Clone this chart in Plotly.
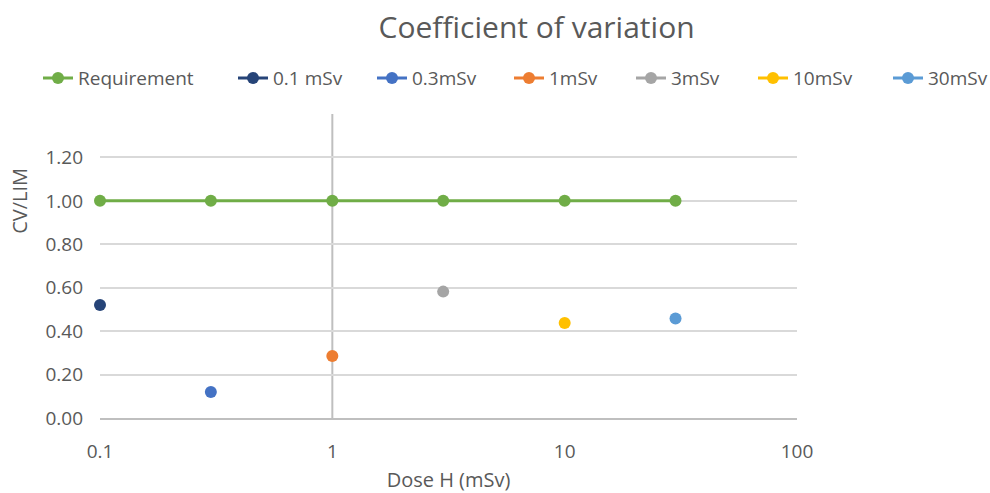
import plotly.graph_objects as go

# Data
req_dose = [0.1, 0.3, 1, 3, 10, 30]
req_cv = [1.0, 1.0, 1.0, 1.0, 1.0, 1.0]

series_names = ["0.1 mSv", "0.3mSv", "1mSv", "3mSv", "10mSv", "30mSv"]
series_dose = [0.1, 0.3, 1, 3, 10, 30]
series_cv = [0.52, 0.12, 0.285, 0.582, 0.438, 0.458]
series_colors = ["#264478", "#4472C4", "#ED7D31", "#A5A5A5", "#FFC000", "#5B9BD5"]

y_ticks = [0.0, 0.2, 0.4, 0.6, 0.8, 1.0, 1.2]
y_ticktext = ["0.00", "0.20", "0.40", "0.60", "0.80", "1.00", "1.20"]
x_ticks = [0.1, 1, 10, 100]
x_ticktext = ["0.1", "1", "10", "100"]
axis_cross = 1  # vertical axis crosses at dose = 1

# legend entry left positions (px from left of figure), one per entry
legend_px = [38, 233, 372, 509, 631, 753, 888]

FONT = "Open Sans"
GREY = "#595959"
W, H = 990, 493
ML, MR, MT, MB = 100, 193, 114, 75
PW = W - ML - MR

fig = go.Figure()
fig.add_trace(go.Scatter(
    x=req_dose, y=req_cv, name="Requirement", mode="lines+markers",
    line=dict(color="#70AD47", width=3),
    marker=dict(color="#70AD47", size=12), cliponaxis=False, legend="legend",
))
for i, (n, xd, yv, c) in enumerate(zip(series_names, series_dose, series_cv, series_colors)):
    fig.add_trace(go.Scatter(
        x=[xd], y=[yv], name=n, mode="lines+markers",
        line=dict(color=c, width=3),
        marker=dict(color=c, size=12), cliponaxis=False,
        legend=f"legend{i + 2}",
    ))

# vertical axis line crossing at x = 1
fig.add_shape(type="line", xref="x", yref="paper", x0=axis_cross, x1=axis_cross,
              y0=0, y1=1, line=dict(color="#BFBFBF", width=2), layer="below")

legend_defaults = dict(orientation="h", xanchor="left", y=1.118, yanchor="middle",
                       font=dict(family=FONT, size=19, color=GREY),
                       bgcolor="rgba(0,0,0,0)", borderwidth=0)
legends = {}
for i, px in enumerate(legend_px):
    key = "legend" if i == 0 else f"legend{i + 1}"
    legends[key] = dict(legend_defaults, x=(px - ML) / PW)

fig.update_layout(
    width=W, height=H,
    margin=dict(l=ML, r=MR, t=MT, b=MB, autoexpand=False),
    paper_bgcolor="white", plot_bgcolor="white",
    font=dict(family=FONT, color=GREY, size=19),
    title=dict(text="Coefficient of variation", x=0.542, xanchor="center",
               y=0.945, yanchor="middle",
               font=dict(family=FONT, size=30, color=GREY)),
    showlegend=True,
    xaxis=dict(type="log", range=[-1, 2], tickvals=x_ticks, ticktext=x_ticktext,
               showgrid=False, showline=True, linecolor="#BFBFBF", linewidth=2,
               ticks="", zeroline=False, automargin=False, ticklabelstandoff=15,
               tickfont=dict(size=19, color=GREY),
               title=dict(text="Dose H (mSv)", font=dict(size=20, color=GREY), standoff=14)),
    yaxis=dict(range=[0, 1.4], tickvals=y_ticks, ticktext=y_ticktext,
               showgrid=True, gridcolor="#D9D9D9", gridwidth=1.5, automargin=False,
               showline=False, zeroline=False, ticks="", ticklabelstandoff=16,
               tickfont=dict(size=19, color=GREY)),
    **legends,
)

fig.add_annotation(text="CV/LIM", xref="paper", yref="paper", x=-0.115, y=0.714,
                   showarrow=False, textangle=-90, xanchor="center", yanchor="middle",
                   font=dict(family=FONT, size=20, color=GREY))

fig.write_html("out.html", config={"displayModeBar": False},
               post_script="document.body.style.margin='0px';")
